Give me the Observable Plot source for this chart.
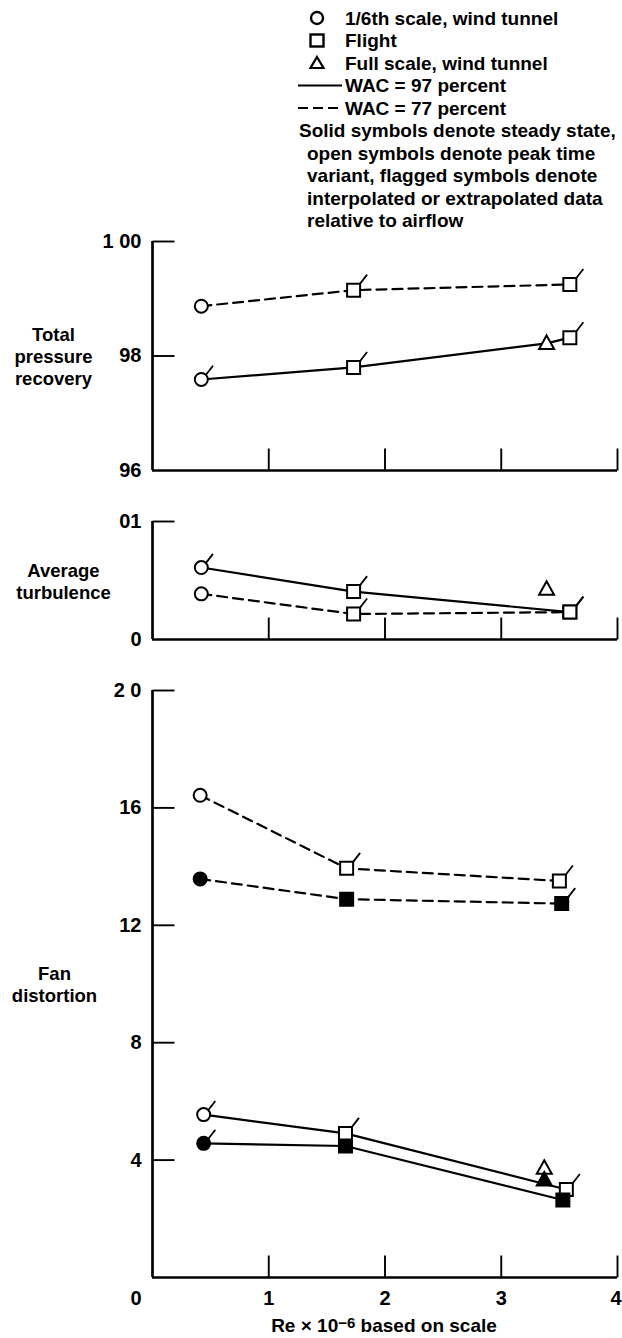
<!DOCTYPE html>
<html>
<head>
<meta charset="utf-8">
<script src="https://cdn.jsdelivr.net/npm/d3@7"></script>
<script src="https://cdn.jsdelivr.net/npm/@observablehq/plot@0.6"></script>
<style>
  html, body { margin: 0; padding: 0; background: #fff; }
  #root { position: relative; width: 622px; height: 1338px; overflow: hidden;
          font-family: "Liberation Sans", Arial, Helvetica, sans-serif; font-weight: bold; color: #000; }
  .abs { position: absolute; }
  #xtitle { left: 0; width: 622px; top: 1314px; font-size: 19px; line-height: 24px; }
  #xtitle span { position: absolute; left: 384px; transform: translateX(-50%); white-space: nowrap; }
  #xtitle sup { font-size: 15px; position: relative; top: -4px; vertical-align: baseline; }
</style>
</head>
<body>
<div id="root"></div>
<script>
// ---------------- data ----------------
// shared x axis (Re x 10^-6)
const reTicks = [1, 2, 3, 4];
const reTickLabels = ["1", "2", "3", "4"];

// legend
const legendSymbolLabels = ["1/6th scale, wind tunnel", "Flight", "Full scale, wind tunnel"];
const legendLineLabels = ["WAC = 97 percent", "WAC = 77 percent"];
const noteLines = [
  "Solid symbols denote steady state,",
  "open symbols denote peak time",
  "variant, flagged symbols denote",
  "interpolated or extrapolated data",
  "relative to airflow"
];

// Panel 1: Total pressure recovery
const recLabel = "Total\npressure\nrecovery";
const recTicks = [100, 98, 96];
const recTickLabels = ["1 00", "98", "96"];
const recRe     = [0.42, 1.73, 3.59, 0.42, 1.73, 3.39, 3.59];
const recValue  = [98.87, 99.15, 99.25, 97.59, 97.80, 98.22, 98.32];
const recWAC    = [77, 77, 77, 97, 97, 97, 97];
const recSource = ["circle", "square", "square", "circle", "square", "triangle", "square"];
const recSteady = [false, false, false, false, false, false, false];
const recFlag   = [false, true, true, true, true, false, true];
const recOnLine = [true, true, true, true, true, true, true];

// Panel 2: Average turbulence
const turbLabel = "Average\nturbulence";
const turbTicks = [0.01, 0];
const turbTickLabels = ["01", "0"];
const turbRe     = [0.42, 1.73, 3.59, 0.42, 1.73, 3.59, 3.39];
const turbValue  = [0.00387, 0.00216, 0.00232, 0.0061, 0.00406, 0.00232, 0.00426];
const turbWAC    = [77, 77, 77, 97, 97, 97, 97];
const turbSource = ["circle", "square", "square", "circle", "square", "square", "triangle"];
const turbSteady = [false, false, false, false, false, false, false];
const turbFlag   = [false, true, true, true, true, true, false];
const turbOnLine = [true, true, true, true, true, true, false];

// Panel 3: Fan distortion
const fanLabel = "Fan\ndistortion";
const fanTicks = [20, 16, 12, 8, 4, 0];
const fanTickLabels = ["2 0", "16", "12", "8", "4", "0"];
const fanRe     = [0.41, 1.67, 3.50, 0.41, 1.67, 3.52, 0.44, 1.66, 3.56, 0.44, 1.66, 3.53, 3.37, 3.37];
const fanValue  = [16.43, 13.94, 13.51, 13.58, 12.89, 12.74, 5.55, 4.91, 3.00, 4.57, 4.48, 2.64, 3.72, 3.32];
const fanWAC    = [77, 77, 77, 77, 77, 77, 97, 97, 97, 97, 97, 97, 97, 97];
const fanSource = ["circle", "square", "square", "circle", "square", "square",
                   "circle", "square", "square", "circle", "square", "square", "triangle", "triangle"];
const fanSteady = [false, false, false, true, true, true, false, false, false, true, true, true, false, true];
const fanFlag   = [false, true, true, false, false, true, true, true, true, true, false, false, false, false];
const fanOnLine = [true, true, true, true, true, true, true, true, true, true, true, true, false, false];

// ---------------- symbols ----------------
const R = 6.5;
const shapes = {
  circle:   {draw(c) { c.moveTo(R, 0); c.arc(0, 0, R, 0, 2 * Math.PI); c.closePath(); }},
  square:   {draw(c) { c.moveTo(-R, -R); c.lineTo(R, -R); c.lineTo(R, R); c.lineTo(-R, R); c.closePath(); }},
  triangle: {draw(c) { c.moveTo(0, -8); c.lineTo(7.5, 5.5); c.lineTo(-7.5, 5.5); c.closePath(); }}
};
const flagStart = {circle: [R * 0.72, -R * 0.72], square: [R, -R], triangle: [3, -6]};
const flags = Object.fromEntries(Object.entries(flagStart).map(([k, [x0, y0]]) =>
  [k, {draw(c) { c.moveTo(x0, y0); c.lineTo(x0 + 7, y0 - 9); }}]));
const yTickSym = {draw(c) { c.moveTo(0, 0); c.lineTo(22, 0); }};
const xTickSym = {draw(c) { c.moveTo(0, 0); c.lineTo(0, -22); }};

const FONT = '"Liberation Sans", Arial, Helvetica, sans-serif';
const root = document.getElementById("root");

function place(node, top) {
  const d = document.createElement("div");
  d.className = "abs";
  d.style.left = "0px";
  d.style.top = top + "px";
  d.appendChild(node);
  root.appendChild(d);
}

function panel(cfg) {
  const rows = cfg.re.map((re, i) => ({
    re, v: cfg.value[i], wac: cfg.wac[i], src: cfg.source[i],
    steady: cfg.steady[i], flag: cfg.flag[i], line: cfg.onLine[i]
  }));
  const y0 = cfg.domain[0];
  const marks = [
    Plot.ruleX([0], {stroke: "black", strokeWidth: 2.7}),
    Plot.ruleY([y0], {stroke: "black", strokeWidth: 2.7}),
    Plot.dot(cfg.ticks.filter(t => t !== y0), {x: 0, y: d => d, symbol: yTickSym, stroke: "black", strokeWidth: 1.9, fill: "none"}),
    Plot.dot(reTicks, {x: d => d, y: y0, symbol: xTickSym, stroke: "black", strokeWidth: 1.9, fill: "none"}),
    Plot.text(cfg.ticks, {x: 0, y: d => d, text: (d, i) => cfg.tickLabels[i], textAnchor: "end", dx: -11,
      fontSize: 20, fontWeight: "bold", filter: d => !(cfg.xLabels && d === y0)}),
    Plot.text([cfg.label], {frameAnchor: "left", dx: cfg.labelDx, text: d => d, textAnchor: "middle",
      lineAnchor: "middle", lineHeight: 1.2, fontSize: 18.5, fontWeight: "bold"}),
    Plot.line(rows.filter(d => d.line && d.wac === 97), {x: "re", y: "v", z: "steady", stroke: "black", strokeWidth: 2.2}),
    Plot.line(rows.filter(d => d.line && d.wac === 77), {x: "re", y: "v", z: "steady", stroke: "black", strokeWidth: 2.2, strokeDasharray: "10,6"})
  ];
  for (const s of ["circle", "square", "triangle"]) {
    marks.push(Plot.dot(rows.filter(d => d.src === s && !d.steady), {x: "re", y: "v", symbol: shapes[s], fill: "white", stroke: "black", strokeWidth: 2}));
    marks.push(Plot.dot(rows.filter(d => d.src === s && d.steady), {x: "re", y: "v", symbol: shapes[s], fill: "black", stroke: "black", strokeWidth: 2}));
    marks.push(Plot.dot(rows.filter(d => d.src === s && d.flag), {x: "re", y: "v", symbol: flags[s], fill: "none", stroke: "black", strokeWidth: 1.8}));
  }
  if (cfg.xLabels) {
    const last = reTicks.length - 1;
    marks.push(Plot.text(reTicks.slice(0, last), {x: d => d, y: y0, dy: 21, text: (d, i) => reTickLabels[i], fontSize: 20, fontWeight: "bold"}));
    marks.push(Plot.text(reTicks.slice(last), {x: d => d, y: y0, dy: 21, dx: 4, textAnchor: "end", text: () => reTickLabels[last], fontSize: 20, fontWeight: "bold"}));
    marks.push(Plot.text([cfg.tickLabels[cfg.tickLabels.length - 1]], {x: 0, y: y0, dy: 21, dx: -11, textAnchor: "end", text: d => d, fontSize: 20, fontWeight: "bold"}));
  }
  return Plot.plot({
    width: 622,
    height: cfg.height,
    marginLeft: 152,
    marginRight: 5,
    marginTop: cfg.marginTop,
    marginBottom: cfg.marginBottom,
    x: {domain: [0, 4], axis: null},
    y: {domain: cfg.domain, axis: null},
    style: {fontFamily: FONT, background: "transparent", color: "black", overflow: "visible"},
    marks
  });
}

place(panel({
  re: recRe, value: recValue, wac: recWAC, source: recSource, steady: recSteady, flag: recFlag, onLine: recOnLine,
  domain: [96, 100], ticks: recTicks, tickLabels: recTickLabels, label: recLabel, labelDx: -99,
  height: 280, marginTop: 41, marginBottom: 10
}), 200);

place(panel({
  re: turbRe, value: turbValue, wac: turbWAC, source: turbSource, steady: turbSteady, flag: turbFlag, onLine: turbOnLine,
  domain: [0, 0.01], ticks: turbTicks, tickLabels: turbTickLabels, label: turbLabel, labelDx: -89,
  height: 180, marginTop: 41, marginBottom: 21
}), 480);

place(panel({
  re: fanRe, value: fanValue, wac: fanWAC, source: fanSource, steady: fanSteady, flag: fanFlag, onLine: fanOnLine,
  domain: [0, 20], ticks: fanTicks, tickLabels: fanTickLabels, label: fanLabel, labelDx: -98,
  height: 660, marginTop: 30, marginBottom: 43, xLabels: true
}), 660);

// ---------------- legend ----------------
const lg = d3.create("svg").attr("width", 622).attr("height", 240)
  .style("font-family", FONT).style("font-weight", "bold").style("font-size", "19px");
const rowY = i => 18 + 22.5 * i;
const symX = 317;
lg.append("circle").attr("cx", symX).attr("cy", rowY(0)).attr("r", 6).attr("fill", "none").attr("stroke", "black").attr("stroke-width", 2.4);
lg.append("rect").attr("x", symX - 6.5).attr("y", rowY(1) - 6).attr("width", 13).attr("height", 12).attr("fill", "none").attr("stroke", "black").attr("stroke-width", 2.4);
lg.append("path").attr("d", `M${symX},${rowY(2) - 6}L${symX + 6.5},${rowY(2) + 5}L${symX - 6.5},${rowY(2) + 5}Z`).attr("fill", "none").attr("stroke", "black").attr("stroke-width", 2.2);
lg.append("line").attr("x1", 298).attr("x2", 342).attr("y1", rowY(3)).attr("y2", rowY(3)).attr("stroke", "black").attr("stroke-width", 2);
lg.append("line").attr("x1", 298).attr("x2", 342).attr("y1", rowY(4)).attr("y2", rowY(4)).attr("stroke", "black").attr("stroke-width", 2).attr("stroke-dasharray", "10,5");
legendSymbolLabels.concat(legendLineLabels).forEach((t, i) => {
  lg.append("text").attr("x", 345).attr("y", rowY(i)).attr("dy", "0.35em").text(t);
});
noteLines.forEach((t, i) => {
  lg.append("text").attr("x", i === 0 ? 299 : 307).attr("y", rowY(5 + i)).attr("dy", "0.35em").text(t);
});
place(lg.node(), 0);

// ---------------- x title ----------------
const xt = document.createElement("div");
xt.id = "xtitle";
xt.className = "abs";
xt.innerHTML = '<span>Re \u00d7 10<sup>\u22126</sup> based on scale</span>';
root.appendChild(xt);
</script>
</body>
</html>
